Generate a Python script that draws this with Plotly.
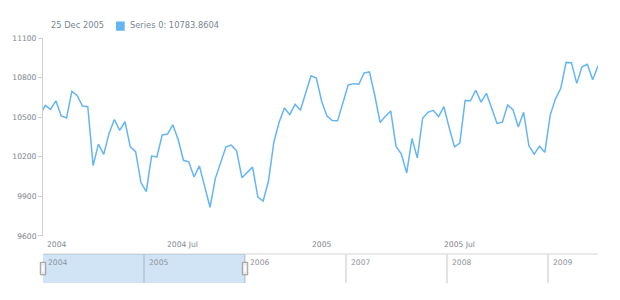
import plotly.graph_objects as go
import pandas as pd

# ---------------- data ----------------
dates = pd.date_range("2003-12-28", periods=106, freq="7D")
values = [
    10514, 10589, 10559, 10624, 10509, 10494, 10696, 10664, 10584, 10579,
    10133, 10295, 10218, 10377, 10482, 10400, 10465, 10275, 10238, 10004,
    9936, 10205, 10198, 10365, 10372, 10442, 10330, 10173, 10161, 10046,
    10131, 9976, 9817, 10036, 10161, 10275, 10288, 10245, 10041, 10081,
    10121, 9894, 9864, 10016, 10308, 10462, 10569, 10519, 10597, 10552,
    10689, 10813, 10796, 10621, 10509, 10474, 10472, 10599, 10744, 10754,
    10749, 10836, 10843, 10664, 10460, 10507, 10547, 10278, 10220, 10076,
    10338, 10191, 10492, 10537, 10552, 10504, 10579, 10420, 10275, 10303,
    10626, 10624, 10704, 10614, 10681, 10567, 10452, 10462, 10592, 10557,
    10425, 10537, 10283, 10220, 10280, 10233, 10514, 10639, 10719, 10915,
    10913, 10756, 10881, 10901, 10783.8604, 10888,
]
series_name = "Series 0"
legend_index = 104

y_ticks = [9600, 9900, 10200, 10500, 10800, 11100]
y_tick_labels = ["9600", "9900", "10200", "10500", "10800", "11100"]
x_tick_dates = ["2004-01-01", "2004-07-01", "2005-01-01", "2005-07-01"]
x_tick_labels = ["2004", "2004 Jul", "2005", "2005 Jul"]
scroller_year_dates = ["2004-01-01", "2005-01-01", "2006-01-01",
                       "2007-01-01", "2008-01-01", "2009-01-01"]
scroller_year_labels = ["2004", "2005", "2006", "2007", "2008", "2009"]
selection = ["2004-01-01", "2006-01-01"]
scroller_range = ["2004-01-01", "2009-07-01"]

# ---------------- layout helpers ----------------
W, H = 620, 300
ml, mr, mt, mb = 43, 22, 38, 14
pw, ph = W - ml - mr, H - mt - mb


def px_x(px):
    return (px - ml) / pw


def px_y(py):
    return (H - mb - py) / ph


def scroller_frac(d):
    s0, s1 = pd.Timestamp(scroller_range[0]), pd.Timestamp(scroller_range[1])
    return (pd.Timestamp(d) - s0) / (s1 - s0)


LINE = "#64b5f6"
TXT = "#7c868e"
AXC = "#cfcfcf"
FONT = "DejaVu Sans"

scroll_top = px_y(256.7)

fig = go.Figure()
fig.add_trace(go.Scatter(
    x=dates, y=values, mode="lines",
    line=dict(color=LINE, width=1.5),
    xaxis="x", yaxis="y", hoverinfo="skip", showlegend=False,
))

shapes = []
# scroller top border
shapes.append(dict(type="line", xref="x2 domain", x0=0, x1=1, yref="y2 domain",
                   y0=1, y1=1, line=dict(color="#e3e3e3", width=1.5), layer="below"))
# selected range
shapes.append(dict(type="rect", xref="x2", x0=selection[0], x1=selection[1],
                   yref="y2 domain", y0=0, y1=1,
                   fillcolor="rgba(25,118,210,0.2)", line=dict(width=0), layer="above"))
# handles (paper refs so they are not clipped by the scroller area)
for d in selection:
    fx = scroller_frac(d)
    shapes.append(dict(type="rect", xref="paper", xsizemode="pixel", xanchor=fx,
                       x0=-2.7, x1=2.7, yref="paper",
                       y0=px_y(277.7), y1=px_y(265),
                       fillcolor="#e6e6e6", line=dict(color="#9a9a9a", width=1),
                       layer="above"))
    shapes.append(dict(type="rect", xref="paper", xsizemode="pixel", xanchor=fx,
                       x0=-0.8, x1=0.8, yref="paper",
                       y0=px_y(275), y1=px_y(267.5),
                       fillcolor="#ffffff", line=dict(width=0), layer="above"))
# legend marker
shapes.append(dict(type="rect", xref="paper", yref="paper",
                   x0=px_x(116), x1=px_x(124.7), y0=px_y(30.7), y1=px_y(21.3),
                   fillcolor=LINE, line=dict(width=0)))

annotations = []
annotations.append(dict(xref="paper", yref="paper", x=px_x(50), y=px_y(25.3),
                        xanchor="left", yanchor="middle", showarrow=False, xshift=-1,
                        text=dates[legend_index].strftime("%d %b %Y"),
                        font=dict(family=FONT, size=8.3, color=TXT)))
annotations.append(dict(xref="paper", yref="paper", x=px_x(128.7), y=px_y(25.3),
                        xanchor="left", yanchor="middle", showarrow=False, xshift=-1,
                        text=f"{series_name}: {values[legend_index]}",
                        font=dict(family=FONT, size=8.3, color=TXT)))
for i, (d, t) in enumerate(zip(x_tick_dates, x_tick_labels)):
    annotations.append(dict(xref="x", yref="paper", x=d, y=px_y(247),
                            xanchor="left" if i == 0 else "center", yanchor="middle",
                            xshift=2 if i == 0 else 1, showarrow=False, text=t,
                            font=dict(family=FONT, size=7.6, color=TXT)))
for d, t in zip(scroller_year_dates, scroller_year_labels):
    annotations.append(dict(xref="x2", yref="y2", x=d, y=0.706,
                            xanchor="left", yanchor="middle", xshift=3,
                            showarrow=False, text=t,
                            font=dict(family=FONT, size=7.6, color="#8c949b")))

fig.update_layout(
    width=W, height=H,
    margin=dict(l=ml, r=mr, t=mt, b=mb, pad=0),
    paper_bgcolor="white", plot_bgcolor="white",
    showlegend=False,
    xaxis=dict(type="date", domain=[0, 1], anchor="y", range=selection,
               showgrid=False, showline=False, zeroline=False,
               showticklabels=False, ticks=""),
    yaxis=dict(domain=[px_y(238.3), 1], anchor="x", range=[y_ticks[0], y_ticks[-1]],
               tickmode="array", tickvals=y_ticks, ticktext=y_tick_labels,
               ticks="outside", ticklen=4, tickcolor=AXC, tickwidth=1,
               showline=True, linecolor=AXC, linewidth=1,
               showgrid=False, zeroline=False,
               tickfont=dict(family=FONT, size=7.6, color=TXT)),
    xaxis2=dict(type="date", domain=[0, 1], anchor="y2", range=scroller_range,
                showgrid=True, gridcolor="#e3e3e3", gridwidth=1.5,
                tick0="2004-01-01", dtick="M12",
                showticklabels=False, ticks="", showline=False, zeroline=False),
    yaxis2=dict(domain=[0, scroll_top], anchor="x2", range=[0, 1],
                visible=False, showgrid=False, zeroline=False),
    shapes=shapes,
    annotations=annotations,
)

fig.write_html("out.html")
